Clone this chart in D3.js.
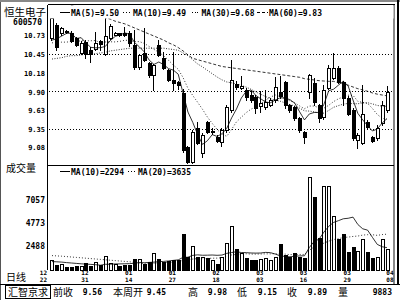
<!DOCTYPE html>
<html><head><meta charset="utf-8">
<script src="https://cdn.jsdelivr.net/npm/d3@7"></script>
<style>
html,body{margin:0;padding:0;background:#fff;}
svg{display:block;}
.mono{font-family:"DejaVu Sans Mono",monospace;font-weight:bold;fill:#000;}
.cjk{font-family:"Noto Sans CJK SC",sans-serif;fill:#000;}
</style></head><body>
<svg id="c" width="400" height="300"></svg>
<script>
// ---------------- DATA ----------------
const stockName = "恒生电子";
const stockCode = "600570";
const dates = ["12/22","12/23","12/24","12/27","12/28","12/29","12/30","12/31",
  "01/04","01/05","01/06","01/07","01/10","01/11","01/12","01/13","01/14",
  "01/17","01/18","01/19","01/20","01/21","01/24","01/25","01/26","01/27","01/28","01/31",
  "02/01","02/02","02/03","02/04","02/16","02/17","02/18","02/21","02/22","02/23","02/24","02/25","02/28",
  "03/01","03/02","03/03","03/04","03/07","03/08","03/09","03/10","03/11",
  "03/14","03/15","03/16","03/17","03/18","03/21","03/22","03/23","03/24","03/25",
  "03/28","03/29","03/30","03/31","04/01","04/04","04/05","04/06","04/07","04/08"];
const opens = [10.69,10.88,10.77,10.80,10.77,10.69,10.47,10.63,10.51,10.53,
  10.64,10.45,10.69,10.74,10.76,10.76,10.77,10.59,10.26,10.47,
  10.32,10.14,10.59,10.39,10.22,10.07,10.04,9.88,9.08,8.86,
  9.36,8.99,9.45,9.30,9.23,9.15,9.33,9.63,10.01,9.95,
  9.92,9.85,9.82,9.69,9.67,9.70,9.77,9.89,10.04,9.70,
  9.67,9.51,9.30,9.89,10.03,9.70,9.52,9.95,10.10,10.25,
  10.04,9.81,9.63,9.18,9.14,9.45,9.22,9.21,9.43,9.63];
const highs = [11.00,10.92,10.86,10.81,10.79,10.71,10.64,10.66,10.56,10.78,
  10.66,10.98,10.90,10.78,10.77,10.85,10.79,10.81,10.46,10.84,
  10.34,10.31,10.66,10.49,10.24,10.49,10.05,9.93,9.10,9.33,
  9.45,9.28,9.47,9.36,9.25,9.36,9.70,10.37,10.05,10.13,
  9.95,9.90,9.85,9.90,9.92,9.80,10.11,10.13,10.06,9.72,
  9.69,9.53,9.32,10.16,10.10,9.72,10.00,10.29,10.47,10.27,
  10.06,9.83,9.65,9.28,10.00,9.48,9.24,9.40,9.76,9.98];
const lows = [10.66,10.52,10.74,10.77,10.63,10.57,10.45,10.39,10.34,10.51,
  10.52,10.44,10.67,10.73,10.72,10.72,10.58,10.24,10.24,10.35,
  10.12,9.92,10.42,10.23,10.05,9.92,9.93,9.00,8.84,8.84,
  9.12,8.93,9.28,9.27,9.15,9.10,9.30,9.60,9.93,9.93,
  9.78,9.74,9.58,9.60,9.64,9.68,9.75,9.80,9.66,9.60,
  9.48,9.30,9.14,9.80,9.70,9.45,9.50,9.93,10.08,10.02,
  9.70,9.55,9.18,9.06,9.12,9.36,9.15,9.19,9.41,9.60];
const closes = [10.98,10.56,10.84,10.78,10.65,10.59,10.62,10.45,10.45,10.62,
  10.60,10.72,10.87,10.76,10.74,10.74,10.62,10.26,10.44,10.37,
  10.14,10.29,10.44,10.25,10.07,10.03,9.99,9.03,8.86,9.30,
  9.14,9.26,9.30,9.31,9.17,9.33,9.67,10.07,9.97,9.98,
  9.82,9.77,9.66,9.73,9.74,9.77,9.97,9.83,9.70,9.63,
  9.51,9.33,9.23,10.14,9.74,9.51,9.92,10.25,10.25,10.04,
  9.80,9.57,9.21,9.26,9.56,9.38,9.17,9.36,9.70,9.89];
const volumes = [1050,550,650,380,380,440,420,720,440,880,
  550,1450,720,650,440,550,550,1150,1150,650,
  880,1780,1150,880,940,1100,1050,3660,1320,2490,
  1380,1380,1220,1050,650,1330,2790,4460,2120,1720,
  1220,1050,1100,1150,1280,1050,1380,2650,1550,1380,
  1780,1380,1220,9400,7400,3230,8470,8470,5460,3130,
  3660,1880,2390,1980,3130,1900,1250,1400,3150,2183];
const ma5Lead = [10.66,10.68,10.72,10.76];
const ma10Lead = [10.62,10.62,10.63,10.63,10.64,10.64,10.65,10.65,10.65];
const ma30Lead = [10.38,10.39,10.40,10.42,10.43,10.43,10.44,10.45,10.45,10.46,
  10.47,10.48,10.50,10.51,10.52,10.53,10.54,10.54,10.54,10.54,
  10.54,10.54,10.54,10.54,10.53,10.52,10.51,10.47,10.43];
const ma60Lead = [11.27,11.24,11.22,11.20,11.17,11.15,11.12,11.09,11.06,11.04,
  11.01,10.99,10.97,10.94,10.92,10.90,10.87,10.84,10.81,10.78,
  10.75,10.72,10.69,10.66,10.62,10.59,10.55,10.50,10.44,10.39,
  10.37,10.35,10.33,10.31,10.29,10.27,10.26,10.25,10.24,10.23,
  10.22,10.21,10.20,10.19,10.18,10.17,10.16,10.15,10.14,10.13,
  10.12,10.11,10.09,10.08,10.07,10.06,10.055,10.05,10.05];
const volMa10Lead = [900,880,850,800,760,720,680,650,620];
const volMa20Lead = [1500,1470,1440,1400,1360,1320,1280,1240,1200,1160,
  1120,1080,1040,1000,960,920,880,820,760];
const priceTicks = [10.73,10.45,10.18,9.90,9.63,9.35,9.08];
const priceGrid = [10.45,9.90,9.35];
const volTicks = [7057,4773,2488];
const labelIdx = [0,7,16,25,34,43,52,61,69];
const priceLegend = [["MA(5)","9.50"],["MA(10)","9.49"],["MA(30)","9.68"],["MA(60)","9.83"]];
const volLegend = [["MA(10)","2294"],["MA(20)","3635"]];
const infoLabels = ["前收","本周开","高","低","收","量"];
const infoValues = ["9.56","9.45","9.98","9.15","9.89","9883"];
const brokerName = "汇智京求";
const periodName = "日线";
const volTitle = "成交量";

// ---------------- LAYOUT ----------------
const svg = d3.select("#c");
const plotL = 47.5, plotR = 393.5, priceTop = 4.5, priceBot = 165.5, volBot = 270;
const x = d3.scaleBand().domain(d3.range(dates.length)).range([49.57, 389.43]);
const cx = i => x(i) + x.bandwidth()/2;
const y = d3.scaleLinear().domain([9.35,10.45]).range([128.7,54.3]);
const yv = d3.scaleLinear().domain([0,10000]).range([270.6,170.6]);

function rolling(vals, n, lead){
  return vals.map((v,i)=> i < n-1 ? lead[i] : d3.mean(vals.slice(i-n+1,i+1)));
}
const lineStyles = [{dash:null},{dash:"1,2"},{dash:"1,1.5"},{dash:"3,2"}];
const priceLegendPos = [{sx:60,sw:10,tx:71},{sx:123,sw:9,tx:133},{sx:192,sw:8,tx:201.5},{sx:257,sw:11,tx:269}];
const volLegendPos = [{sx:60,sw:10,tx:71},{sx:128,sw:9,tx:138}];

// outer frame
svg.append("rect").attr("x",0).attr("y",0).attr("width",400).attr("height",300).attr("fill","#fff");
const fr = svg.append("g").attr("shape-rendering","crispEdges");
fr.append("line").attr("x1",0.5).attr("x2",0.5).attr("y1",0).attr("y2",300).attr("stroke","#555");
fr.append("line").attr("x1",0).attr("x2",400).attr("y1",1).attr("y2",1).attr("stroke","#888").attr("stroke-width",2);
fr.append("line").attr("x1",plotL).attr("x2",plotR+1).attr("y1",priceTop).attr("y2",priceTop).attr("stroke","#000");
fr.append("line").attr("x1",plotL).attr("x2",plotL).attr("y1",priceTop).attr("y2",volBot).attr("stroke","#000");
fr.append("line").attr("x1",plotR+0.5).attr("x2",plotR+0.5).attr("y1",priceTop).attr("y2",284).attr("stroke","#888").attr("stroke-width",2);
fr.append("line").attr("x1",398).attr("x2",398).attr("y1",0).attr("y2",284).attr("stroke","#000").attr("stroke-width",2);
fr.append("line").attr("x1",plotL).attr("x2",plotR).attr("y1",priceBot).attr("y2",priceBot).attr("stroke","#000");
fr.append("line").attr("x1",0).attr("x2",400).attr("y1",284.5).attr("y2",284.5).attr("stroke","#000");

// grid
const grid = svg.append("g").attr("shape-rendering","crispEdges");
priceGrid.forEach(v=>{
  const yy = Math.round(y(v))+0.5;
  grid.append("line").attr("x1",plotL+1).attr("x2",plotR).attr("y1",yy).attr("y2",yy)
    .attr("stroke","#000").attr("stroke-dasharray","1,2");
});

// axes
const pa = svg.append("g").attr("transform","translate(45,0)")
  .call(d3.axisLeft(y).tickValues(priceTicks).tickSize(0).tickPadding(0).tickFormat(d3.format(".2f")));
pa.select(".domain").remove();
pa.selectAll("text").attr("class","mono").style("font-size","7px").attr("dy","0.36em");
const va = svg.append("g").attr("transform","translate(45,0)")
  .call(d3.axisLeft(yv).tickValues(volTicks).tickSize(0).tickPadding(0).tickFormat(d3.format("d")));
va.select(".domain").remove();
va.selectAll("text").attr("class","mono").style("font-size","8px").attr("dy","0.36em");

// titles
svg.append("text").attr("class","cjk").attr("x",4).attr("y",16).style("font-size","10.5px").text(stockName);
svg.append("text").attr("class","mono").attr("x",42).attr("y",24.5).attr("text-anchor","end").style("font-size","8px").text(stockCode);
svg.append("text").attr("class","cjk").attr("x",6).attr("y",172).style("font-size","10px").text(volTitle);
svg.append("text").attr("class","cjk").attr("x",6).attr("y",281).style("font-size","10px").text(periodName);

// clip
svg.append("clipPath").attr("id","pclip").append("rect").attr("x",plotL+0.5).attr("y",priceTop+0.5).attr("width",plotR-plotL-0.5).attr("height",priceBot-priceTop-1);
svg.append("clipPath").attr("id","vclip").append("rect").attr("x",plotL+0.5).attr("y",priceBot+0.5).attr("width",plotR-plotL-0.5).attr("height",volBot-priceBot+1);

// candles
const cg = svg.append("g").attr("clip-path","url(#pclip)").attr("shape-rendering","crispEdges");
closes.forEach((c,i)=>{
  const k = Math.floor(cx(i));
  const o = opens[i];
  const yo = Math.round(y(o)), yc = Math.round(y(c)), yh = Math.round(y(highs[i])), yl = Math.round(y(lows[i]));
  const top = Math.min(yo,yc), bot = Math.max(yo,yc);
  if (bot - top < 1){
    cg.append("line").attr("x1",k+0.5).attr("x2",k+0.5).attr("y1",yh).attr("y2",yl+1).attr("stroke","#000");
    cg.append("line").attr("x1",k-1).attr("x2",k+3).attr("y1",top+0.5).attr("y2",top+0.5).attr("stroke","#000");
  } else if (c >= o){
    cg.append("line").attr("x1",k+0.5).attr("x2",k+0.5).attr("y1",yh).attr("y2",top).attr("stroke","#000");
    cg.append("line").attr("x1",k+0.5).attr("x2",k+0.5).attr("y1",bot).attr("y2",yl+1).attr("stroke","#000");
    cg.append("rect").attr("x",k-0.5).attr("y",top+0.5).attr("width",3).attr("height",bot-top)
      .attr("fill","#fff").attr("stroke","#000");
  } else {
    cg.append("line").attr("x1",k+0.5).attr("x2",k+0.5).attr("y1",yh).attr("y2",yl+1).attr("stroke","#000");
    cg.append("rect").attr("x",k-1).attr("y",top).attr("width",4).attr("height",bot-top+1).attr("fill","#000");
  }
});

// price MAs
const pm = svg.append("g").attr("clip-path","url(#pclip)");
const maSeries = [rolling(closes,5,ma5Lead), rolling(closes,10,ma10Lead), rolling(closes,30,ma30Lead), rolling(closes,60,ma60Lead)];
const pline = d3.line().x((d,i)=>cx(i)).y(d=>y(d));
maSeries.forEach((s,j)=>{
  pm.append("path").datum(s).attr("d",pline).attr("fill","none").attr("stroke","#000")
    .attr("stroke-width",0.8).attr("stroke-dasharray",lineStyles[j].dash);
});

// legend background + legend
svg.append("rect").attr("x",plotL+1).attr("y",priceTop+1).attr("width",plotR-plotL-1).attr("height",13).attr("fill","#fff");
function legend(items, pos, yBase){
  items.forEach((it,j)=>{
    const p = pos[j];
    svg.append("line").attr("x1",p.sx).attr("x2",p.sx+p.sw).attr("y1",yBase-3.5).attr("y2",yBase-3.5)
      .attr("stroke","#000").attr("stroke-width",1).attr("stroke-dasharray",lineStyles[j].dash).attr("shape-rendering","crispEdges");
    svg.append("text").attr("class","mono").attr("x",p.tx).attr("y",yBase).style("font-size","8px")
      .text(it[0]+"="+it[1]);
  });
}
legend(priceLegend, priceLegendPos, 16);

// volume bars
const vg = svg.append("g").attr("clip-path","url(#vclip)").attr("shape-rendering","crispEdges");
volumes.forEach((v,i)=>{
  const k = Math.floor(cx(i));
  const yt = Math.round(yv(v)), yb = Math.round(yv(0));
  if (closes[i] >= opens[i]){
    vg.append("rect").attr("x",k-0.5).attr("y",yt+0.5).attr("width",3).attr("height",yb-yt-1).attr("fill","#fff").attr("stroke","#000");
  } else {
    vg.append("rect").attr("x",k-1).attr("y",yt).attr("width",4).attr("height",yb-yt).attr("fill","#000");
  }
});
const vm = svg.append("g").attr("clip-path","url(#vclip)");
const vline = d3.line().x((d,i)=>cx(i)).y(d=>yv(d));
[rolling(volumes,10,volMa10Lead), rolling(volumes,20,volMa20Lead)].forEach((s,j)=>{
  vm.append("path").datum(s).attr("d",vline).attr("fill","none").attr("stroke","#000")
    .attr("stroke-width",0.8).attr("stroke-dasharray",lineStyles[j].dash);
});
legend(volLegend, volLegendPos, 174.5);

// date labels
labelIdx.forEach((idx,n)=>{
  const [m,d] = dates[idx].split("/");
  let xx = cx(idx) - 1, anchor = "middle";
  if (n === 0){ xx = plotL - 0.5; anchor = "end"; }
  if (n === labelIdx.length-1){ xx = plotR; anchor = "end"; }
  svg.append("text").attr("class","mono").attr("x",xx).attr("y",275).attr("text-anchor",anchor).style("font-size","6px").text(m);
  svg.append("text").attr("class","mono").attr("x",xx).attr("y",282).attr("text-anchor",anchor).style("font-size","6px").text(d);
});

// info bar
svg.append("rect").attr("x",5.5).attr("y",285.5).attr("width",45).attr("height",13).attr("fill","none").attr("stroke","#000").attr("shape-rendering","crispEdges");
svg.append("text").attr("class","cjk").attr("x",8).attr("y",296).style("font-size","10px").text(brokerName);
const infoLabelX = [53,113,188,237,287,338];
const infoValueX = [102,166,227,277,327,392];
infoLabels.forEach((t,i)=>{
  svg.append("text").attr("class","cjk").attr("x",infoLabelX[i]).attr("y",296).style("font-size","10px").text(t);
  svg.append("text").attr("class","mono").attr("x",infoValueX[i]).attr("y",295).attr("text-anchor","end").style("font-size","8px").text(infoValues[i]);
});
</script>
</body></html>
